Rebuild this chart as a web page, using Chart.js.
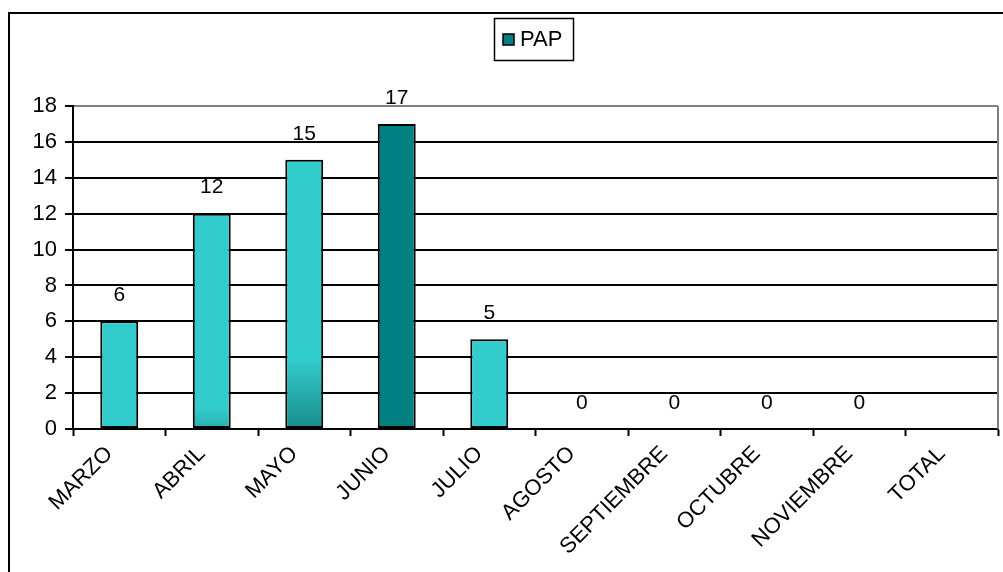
<!DOCTYPE html>
<html>
<head>
<meta charset="utf-8">
<script src="https://cdn.jsdelivr.net/npm/chart.js@4.4.1/dist/chart.umd.min.js"></script>
<style>
  html, body { margin: 0; padding: 0; background: #fff; }
  canvas { display: block; }
</style>
</head>
<body>
<canvas id="papChart" width="1003" height="572"></canvas>
<script>
const meses = ['MARZO', 'ABRIL', 'MAYO', 'JUNIO', 'JULIO', 'AGOSTO', 'SEPTIEMBRE', 'OCTUBRE', 'NOVIEMBRE', 'TOTAL'];
const pap = [6, 12, 15, 17, 5, 0, 0, 0, 0, null];
const serie = 'PAP';

const TURQUESA = '#33CCCC';
const TEAL = '#008080';
const FUENTE = '"Liberation Sans", Arial, sans-serif';

// some bars darken toward the base: [fraction where the fade starts, end colour]
const degradados = [null, [0.9, '#29AFAF'], [0.74, '#1B8C8C'], null, null, null, null, null, null, null];

function rellenoBarra(ctx) {
    const i = ctx.dataIndex;
    if (i === 3) return TEAL;
    const fade = degradados[i];
    const chart = ctx.chart;
    if (!fade || !chart.chartArea || !chart.scales.y) return TURQUESA;
    const top = chart.scales.y.getPixelForValue(pap[i]);
    const bottom = chart.scales.y.getPixelForValue(0);
    const g = chart.ctx.createLinearGradient(0, top, 0, bottom);
    g.addColorStop(0, TURQUESA);
    g.addColorStop(fade[0], TURQUESA);
    g.addColorStop(1, fade[1]);
    return g;
}

// outer frame, plot border on the right, value labels and the boxed legend
const marco = {
    id: 'marco',
    beforeDraw(chart) {
        const c = chart.ctx;
        c.save();
        c.fillStyle = '#fff';
        c.fillRect(0, 0, chart.width, chart.height);
        c.strokeStyle = '#000';
        c.lineWidth = 2;
        c.beginPath();
        c.moveTo(9, chart.height);
        c.lineTo(9, 13);
        c.lineTo(chart.width, 13);
        c.stroke();
        c.restore();
    },
    afterDatasetsDraw(chart) {
        const c = chart.ctx;
        const area = chart.chartArea;
        c.save();
        c.strokeStyle = '#808080';
        c.lineWidth = 2;
        c.beginPath();
        c.moveTo(area.right, area.top);
        c.lineTo(area.right, area.bottom);
        c.stroke();

        c.fillStyle = '#000';
        c.font = '21px ' + FUENTE;
        c.textAlign = 'center';
        c.textBaseline = 'middle';
        chart.getDatasetMeta(0).data.forEach((bar, i) => {
            if (pap[i] === null) return;
            c.fillText(String(pap[i]), bar.x, bar.y - 26);
        });

        // legend
        c.lineWidth = 1.5;
        c.strokeStyle = '#000';
        c.strokeRect(494.5, 18.5, 79, 42);
        c.fillStyle = TEAL;
        c.fillRect(503, 34, 11, 11);
        c.strokeRect(503, 34, 11, 11);
        c.fillStyle = '#000';
        c.textAlign = 'left';
        c.font = '22px ' + FUENTE;
        c.fillText(serie, 520, 40);
        c.restore();
    }
};

new Chart(document.getElementById('papChart'), {
    type: 'bar',
    data: {
        labels: meses,
        datasets: [{
            label: serie,
            data: pap,
            backgroundColor: rellenoBarra,
            borderColor: '#000',
            borderWidth: 2,
            borderSkipped: false,
            categoryPercentage: 1,
            barPercentage: 0.41,
        }],
    },
    options: {
        responsive: false,
        animation: false,
        devicePixelRatio: 1,
        layout: { padding: { top: 106, right: 5, left: 0, bottom: 0 } },
        plugins: {
            legend: { display: false },
            tooltip: { enabled: false },
        },
        scales: {
            x: {
                offset: true,
                grid: {
                    offset: true,
                    drawOnChartArea: false,
                    drawTicks: true,
                    tickLength: 7,
                    tickWidth: 2,
                    tickColor: '#000',
                },
                border: { color: '#000', width: 2 },
                ticks: {
                    autoSkip: false,
                    minRotation: 45,
                    maxRotation: 45,
                    padding: 5,
                    labelOffset: -10,
                    color: '#000',
                    font: { family: FUENTE, size: 22 },
                },
                afterFit(scale) { scale.height = 143; },
            },
            y: {
                min: 0,
                max: 18,
                grid: {
                    color: (ctx) => (ctx.tick && ctx.tick.value === 18 ? '#808080' : '#000'),
                    lineWidth: 2,
                    drawTicks: true,
                    tickLength: 8,
                    tickColor: '#000',
                    tickWidth: 2,
                },
                border: { color: '#000', width: 2 },
                ticks: {
                    stepSize: 2,
                    padding: 8,
                    color: '#000',
                    font: { family: FUENTE, size: 22 },
                },
                afterFit(scale) { scale.width = 73; },
            },
        },
    },
    plugins: [marco],
});
</script>
</body>
</html>
